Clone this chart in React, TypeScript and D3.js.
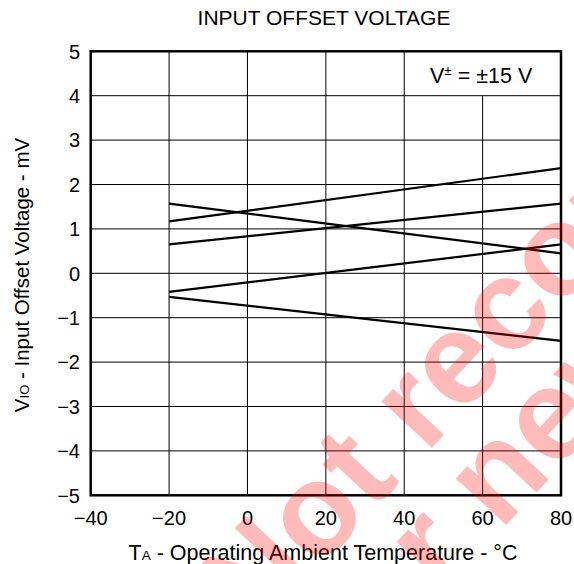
import * as d3 from 'd3'

const W = 574
const H = 564

const temps = [-20, 80]
const seriesA = [1.17, 2.37]
const seriesB = [1.57, 0.45]
const seriesC = [0.65, 1.57]
const seriesD = [-0.42, 0.65]
const seriesE = [-0.53, -1.52]
const allSeries = [seriesA, seriesB, seriesC, seriesD, seriesE]

const xTicks = [-40, -20, 0, 20, 40, 60, 80]
const yTicks = [5, 4, 3, 2, 1, 0, -1, -2, -3, -4, -5]

const FONT = '"Liberation Sans", Arial, sans-serif'

export default function App() {
  const x = d3.scaleLinear().domain([-40, 80]).range([90.7, 561])
  const y = d3.scaleLinear().domain([-5, 5]).range([495.3, 51.3])

  const line = d3
    .line<number>()
    .x((_, i) => x(temps[i]))
    .y((d) => y(d))

  const fmt = (v: number) => (v < 0 ? '\u2212' + Math.abs(v) : String(v))

  return (
    <svg
      width={W}
      height={H}
      style={{ position: 'absolute', left: 0, top: 0, background: '#fff' }}
      fontFamily={FONT}
    >
      <text x={324} y={25} fontSize={21} textAnchor="middle">
        INPUT OFFSET VOLTAGE
      </text>

      {/* grid */}
      {xTicks.slice(1, -1).map((t) => (
        <line
          key={'gx' + t}
          x1={x(t)}
          x2={x(t)}
          y1={t === 60 ? y(4) : y(5)}
          y2={y(-5)}
          stroke="#000"
          strokeWidth={1}
        />
      ))}
      {yTicks.slice(1, -1).map((t) => (
        <line
          key={'gy' + t}
          x1={x(-40)}
          x2={x(80)}
          y1={y(t)}
          y2={y(t)}
          stroke="#000"
          strokeWidth={1}
        />
      ))}

      {allSeries.map((s, i) => (
        <path key={i} d={line(s) || ''} fill="none" stroke="#000" strokeWidth={2.2} />
      ))}

      <rect
        x={x(-40)}
        y={y(5)}
        width={x(80) - x(-40)}
        height={y(-5) - y(5)}
        fill="none"
        stroke="#000"
        strokeWidth={2.5}
      />

      {xTicks.map((t) => (
        <text key={'xl' + t} x={x(t)} y={525} fontSize={20} textAnchor="middle">
          {fmt(t)}
        </text>
      ))}
      {yTicks.map((t) => (
        <text
          key={'yl' + t}
          x={80}
          y={y(t)}
          dy="0.36em"
          fontSize={20}
          textAnchor="end"
        >
          {fmt(t)}
        </text>
      ))}

      <text x={323} y={560} fontSize={21.5} textAnchor="middle">
        T<tspan fontSize={13.5}>A</tspan> - Operating Ambient Temperature - °C
      </text>
      <text
        transform="translate(29,275) rotate(-90)"
        fontSize={20.5}
        textAnchor="middle"
      >
        V<tspan fontSize={13}>IO</tspan> - Input Offset Voltage - mV
      </text>

      <text x={430} y={83} fontSize={21.5}>
        V<tspan fontSize={13.5} dy={-8}>±</tspan>
        <tspan dy={8}> = ±15 V</tspan>
      </text>

      {/* watermark */}
      <g
        transform="translate(253.4,639.3) rotate(-47)"
        fontSize={130}
        fontWeight="bold"
        fill="#ff0000"
        fillOpacity={0.27}
      >
        <text x={0} y={0}>Not recommended</text>
        <text x={37.5} y={107}>for new designs</text>
      </g>
    </svg>
  )
}
